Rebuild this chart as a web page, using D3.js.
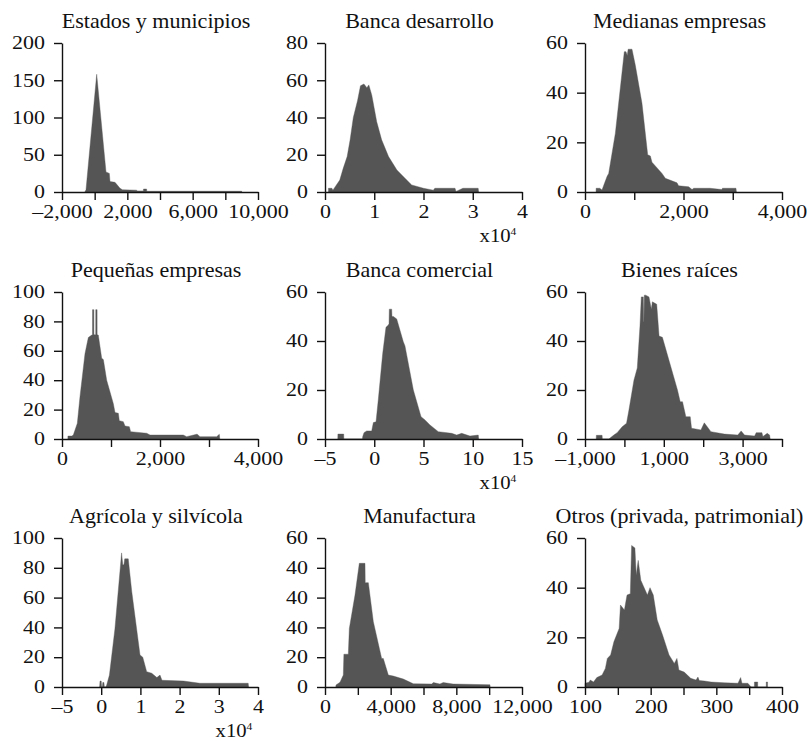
<!DOCTYPE html>
<html lang="es">
<head>
<meta charset="utf-8">
<title>Histogramas por sector</title>
<script src="https://d3js.org/d3.v7.min.js"></script>
<style>
  body { margin: 0; background: #fff; }
</style>
</head>
<body>
<script>
// titles of the 9 panels
var titles = ["Estados y municipios", "Banca desarrollo", "Medianas empresas",
  "Pequeñas empresas", "Banca comercial", "Bienes raíces",
  "Agrícola y silvícola", "Manufactura", "Otros (privada, patrimonial)"];

// histogram outlines, [x, count]
var estados = [[-600,0],[-530,3],[124,158],[694,27],[898,25],[939,14],[1245,13],[1551,5],[1700,3],
  [2573,2.5],[2600,1.5],[2980,1.5],[2990,4],[3180,4],[3190,1],[9000,1],[9010,0]];
var desarrollo = [[0.07,0],[0.07,2],[0.14,2],[0.16,1],[0.30,6.4],[0.37,12.7],[0.45,19],[0.51,28],[0.575,40],
  [0.66,49],[0.72,57],[0.79,58],[0.85,56],[0.89,57.5],[0.95,52],[1.05,37.7],[1.15,28],[1.29,19],[1.46,11.8],
  [1.66,6.4],[1.76,3.8],[2.0,2],[2.2,1],[2.23,2],[2.64,2],[2.66,0.3],[2.80,2],[3.11,2],[3.12,0]];
var medianas = [[225,0],[226,1.5],[300,1.5],[345,0.8],[447,6.2],[481,7.5],[616,23.6],[798,56.5],[832,56.5],
  [858,55],[876,57.5],[954,57.5],[1022,51],[1157,35.7],[1273,15],[1327,14.5],[1360,12],[1563,7.5],[1631,5.5],
  [1868,3.7],[1900,2.5],[2105,2.1],[2173,1],[2207,1.5],[2341,1.5],[2436,1.5],[2538,1.5],[2782,1],[2790,1.5],
  [3066,1.5],[3074,0]];
var pequenas = [[120,0],[121,2],[200,2],[231,2.7],[313,10.7],[367,28.8],[469,58],[537,69],[606,70.7],[622,71],
  [623,88],[650,88],[651,71],[688,71],[689,88],[716,88],[717,71],[741,70.7],[810,55],[844,54],[912,40],
  [1048,24],[1082,18],[1150,17.5],[1170,12.5],[1251,11.8],[1286,8.8],[1374,8.4],[1401,5],[1728,3.9],
  [1796,2.7],[2476,2.7],[2544,1.6],[2748,3.2],[2760,3.2],[2816,1.6],[3156,1.6],[3211,3.2],[3220,0]];
var comercial = [[-3.70,0],[-3.69,2],[-3.10,2],[-3.09,0],[-1.20,0],[-1.17,1],[-1.04,2.6],[-0.77,3.3],
  [-0.26,3.3],[-0.09,6.7],[0.18,7],[0.41,16],[0.86,35],[1.19,45.6],[1.43,46.5],[1.50,47],[1.53,53],[1.77,53],
  [1.80,50],[1.94,50],[2.28,49],[2.95,39.7],[3.12,38],[3.97,20],[4.75,9.1],[5.15,7.8],[5.66,5.7],[6.5,3],
  [7.86,2.3],[8.37,1.6],[8.88,2.3],[9.72,1.2],[10.56,1.6],[10.6,0]];
var raices = [[-715,0],[-712,1.5],[-566,1.5],[-560,0],[-395,0],[-268,1.6],[-184,2.6],[-56,5],[54,6.4],
  [115,11.8],[242,24],[327,29],[395,46],[429,58],[480,58],[490,48],[497,48],[505,58.7],[539,58.7],[624,58],
  [684,53],[709,56],[820,55],[880,42],[964,41.5],[1347,20],[1416,15.2],[1475,15.2],[1560,9.1],[1671,9.1],
  [1704,4.4],[1942,3.7],[2028,6.6],[2196,3],[2538,2],[2878,1.6],[2963,3.3],[3048,1.6],[3304,1.2],[3345,2.6],
  [3490,2.6],[3516,1],[3625,2.3],[3685,1.6],[3700,0]];
var agricola = [[-0.04,0],[-0.03,4],[0.0,4],[0.01,0],[0.03,0],[0.04,3],[0.07,3],[0.08,0],[0.12,0],[0.14,1.3],
  [0.21,8],[0.35,39],[0.52,90],[0.55,82],[0.58,82],[0.60,86],[0.69,86],[0.78,64],[0.99,21.5],[1.06,20],
  [1.16,10.3],[1.29,9.2],[1.42,6.3],[1.50,8],[1.55,4.5],[2.1,4],[2.52,2.5],[3.75,2.5],[3.76,0]];
var manufactura = [[660,0],[670,0.8],[914,1.9],[1116,4.8],[1150,13.2],[1421,13.2],[1482,23.6],[1827,37],
  [2091,49.8],[2436,49.8],[2450,42],[2640,42],[2944,26.3],[3451,11.5],[3552,11.5],[3857,4.8],[4162,4.4],
  [4771,3.2],[5380,1.3],[6500,1.2],[6600,1.8],[7000,1.2],[7200,1.8],[7800,1.2],[10050,0.9],[10060,0]];
var otros = [[100,0],[100,1.5],[106,1.9],[108,2.8],[113,2],[118,3.8],[126,4.8],[131,7.5],[134,11.5],[139,12.9],
  [144,18.2],[152,23.6],[154,33],[160,31],[164,37],[169,37.6],[171,57],[176,56],[178,45],[181,51],[185,43],
  [195,37],[199,40],[204,37],[210,27],[218,21],[228,12.9],[236,9.5],[240,11.5],[243,6.8],[251,6],[261,3.5],
  [269,2.8],[272,4],[274,2.6],[282,2.4],[292,2],[312,1.7],[333,1.5],[337,3.8],[339,1.5],[348,1.5],[353,0],
  [358,0],[358,2],[363,2],[363,0],[376,0],[376,2],[378,2],[378,0]];

// axis domains, ticks and tick labels
var xDomains = [[-2000,10000],[0,4],[0,4000],[0,4000],[-5,15],[-1000,4000],[-1,4],[0,12000],[100,400]];
var xTicks = [[-2000,0,2000,4000,6000,8000,10000],[0,1,2,3,4],[0,1000,2000,3000,4000],
  [0,1000,2000,3000,4000],[-5,0,5,10,15],[-1000,0,1000,2000,3000,4000],[-1,0,1,2,3,4],
  [0,2000,4000,6000,8000,10000,12000],[100,150,200,250,300,350,400]];
var xLabels = [["–2,000","","2,000","","6,000","","10,000"],["0","1","2","3","4"],["0","","2,000","","4,000"],
  ["0","","2,000","","4,000"],["–5","0","5","10","15"],["–1,000","","1,000","","3,000",""],
  ["–5","0","1","2","3","4"],["0","","4,000","","8,000","","12,000"],["100","","200","","300","","400"]];
var yMax = [200, 80, 60, 100, 60, 60, 100, 60, 60];
var yTicks = [[0,50,100,150,200],[0,20,40,60,80],[0,20,40,60],[0,20,40,60,80,100],[0,20,40,60],
  [0,20,40,60],[0,20,40,60,80,100],[0,12,24,36,48,60],[0,20,40,60]];
var yLabels = [["0","50","100","150","200"],["0","20","40","60","80"],["0","20","40","60"],
  ["0","20","40","60","80","100"],["0","20","40","60"],["0","20","40","60"],["0","20","40","60","80","100"],
  ["0","20","40","40","40","60"],["0","20","40","60"]];
var scaled = [false, true, false, false, true, false, true, false, false]; // x10^4 note

var series = [estados, desarrollo, medianas, pequenas, comercial, raices, agricola, manufactura, otros];

// layout
var cols = [[62, 258], [325, 522], [585, 782]];
var rows = [[43, 192], [292, 439], [538, 687]];
var sx = 1.22; // tick label stretch
var serif = "'Liberation Serif', 'Times New Roman', serif";

var svg = d3.select("body").append("svg")
  .attr("width", 807).attr("height", 741);

series.forEach(function (data, i) {
  var c = cols[i % 3], r = rows[Math.floor(i / 3)];
  var x = d3.scaleLinear().domain(xDomains[i]).range(c);
  var y = d3.scaleLinear().domain([0, yMax[i]]).range([r[1], r[0]]);
  var g = svg.append("g");

  var area = d3.area()
    .x(function (d) { return x(d[0]); })
    .y0(y(0))
    .y1(function (d) { return y(d[1]); });

  g.append("path")
    .datum(data)
    .attr("d", area)
    .attr("fill", "#555")
    .attr("stroke", "#555")
    .attr("stroke-width", 0.4);

  var xa = g.append("g")
    .attr("transform", "translate(0," + r[1] + ")")
    .call(d3.axisBottom(x).tickValues(xTicks[i]).tickSize(8).tickSizeOuter(0)
      .tickFormat(function (d) { return xLabels[i][xTicks[i].indexOf(d)]; }));
  xa.selectAll("text").attr("y", 13).attr("transform", "scale(" + sx + ",1)");

  var ya = g.append("g")
    .attr("transform", "translate(" + c[0] + ",0)")
    .call(d3.axisLeft(y).tickValues(yTicks[i]).tickSize(8).tickSizeOuter(0)
      .tickFormat(function (d) { return yLabels[i][yTicks[i].indexOf(d)]; }));
  ya.selectAll("text").attr("x", -17 / sx).attr("transform", "scale(" + sx + ",1)");

  [xa, ya].forEach(function (a) {
    a.attr("font-family", null);
    a.selectAll("path, line").attr("stroke", "#111").attr("stroke-width", 1.4);
    a.selectAll("text").style("font-size", "18px");
  });

  g.append("text")
    .attr("transform", "translate(" + ((c[0] + c[1]) / 2 - 4) + "," + (r[0] - 15) + ") scale(1.05,1)")
    .attr("text-anchor", "middle")
    .style("font-size", "21px")
    .text(titles[i]);

  if (scaled[i]) {
    var t = g.append("text")
      .attr("transform", "translate(" + (c[1] - 24) + "," + (r[1] + 50) + ") scale(1.15,1)")
      .attr("text-anchor", "middle")
      .style("font-size", "18px");
    t.append("tspan").text("x10");
    t.append("tspan").attr("dy", -7).style("font-size", "10px").text("4");
  }
});

svg.selectAll("text").style("font-family", serif).attr("fill", "#111");
</script>
</body>
</html>
